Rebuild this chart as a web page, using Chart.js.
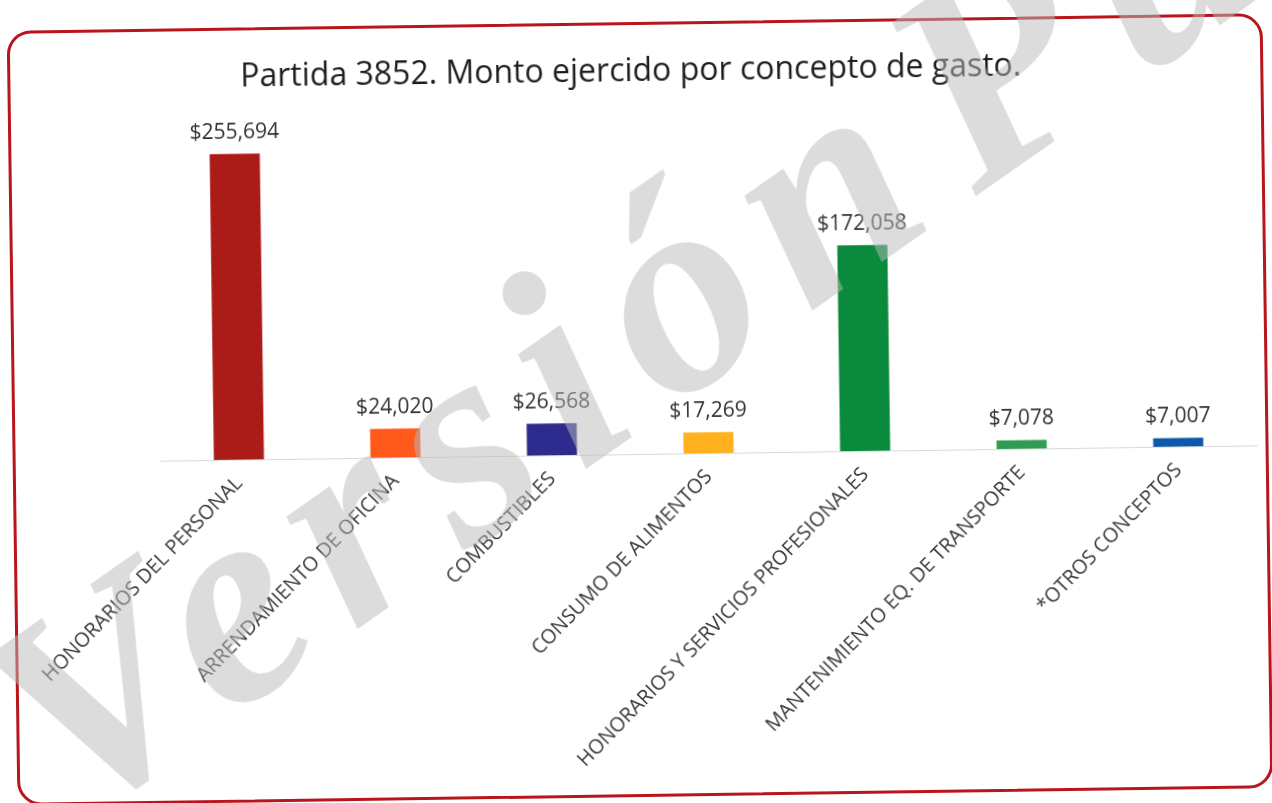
<!DOCTYPE html>
<html lang="es">

<head>
  <meta charset="UTF-8" />
  <title>Partida 3852</title>
  <script src="https://cdn.jsdelivr.net/npm/chart.js@4.4.1/dist/chart.umd.min.js"></script>
  <style>
    body {
      margin: 0;
      width: 1272px;
      height: 803px;
      background: #ffffff;
      overflow: hidden;
      position: relative;
    }
    .frame {
      position: absolute;
      left: 12px;
      top: 22px;
      width: 1256px;
      height: 775px;
      border: 3px solid #b8161c;
      border-radius: 24px;
      box-sizing: border-box;
      transform: rotate(-0.8deg);
      background: #ffffff;
    }
    .frame canvas {
      position: absolute;
      left: 0;
      top: 0;
    }
    .marca {
      position: absolute;
      left: 100px;
      top: 578px;
      font-family: "Liberation Serif", "DejaVu Serif", serif;
      font-weight: bold;
      font-style: italic;
      font-size: 290px;
      letter-spacing: 26px;
      word-spacing: -80px;
      line-height: 1;
      color: rgba(185, 185, 185, 0.5);
      white-space: nowrap;
      transform-origin: 0 100%;
      transform: rotate(-35deg);
      pointer-events: none;
    }
  </style>
</head>

<body>
  <div class="frame">
    <canvas id="grafica" width="1250" height="769"></canvas>
  </div>
  <div class="marca">Versión Pública</div>

  <script>
    const conceptos = [
      "HONORARIOS DEL PERSONAL",
      "ARRENDAMIENTO DE OFICINA",
      "COMBUSTIBLES",
      "CONSUMO DE ALIMENTOS",
      "HONORARIOS Y SERVICIOS PROFESIONALES",
      "MANTENIMIENTO EQ. DE TRANSPORTE",
      "*OTROS CONCEPTOS"
    ];
    const montos = [255694, 24020, 26568, 17269, 172058, 7078, 7007];
    const colores = ["#ab1c18", "#ff5a1c", "#2e2b8e", "#ffb21e", "#0a8a3c", "#2f9c52", "#0c58aa"];

    // etiquetas de valor encima de cada barra
    const etiquetas = {
      id: "etiquetas",
      afterDatasetsDraw(chart) {
        const ctx = chart.ctx;
        const meta = chart.getDatasetMeta(0);
        ctx.save();
        ctx.font = '21px "Open Sans"';
        ctx.fillStyle = "#333333";
        ctx.textAlign = "center";
        ctx.textBaseline = "bottom";
        meta.data.forEach((bar, i) => {
          ctx.fillText("$" + montos[i].toLocaleString("en-US"), bar.x, bar.y - 11);
        });
        ctx.restore();
      }
    };

    new Chart(document.getElementById("grafica"), {
      type: "bar",
      data: {
        labels: conceptos,
        datasets: [{
          data: montos,
          backgroundColor: colores,
          borderWidth: 0,
          barPercentage: 0.32,
          categoryPercentage: 1
        }]
      },
      options: {
        responsive: false,
        animation: false,
        layout: {
          padding: { left: 0, right: 9, top: 0, bottom: 0 }
        },
        plugins: {
          legend: { display: false },
          tooltip: { enabled: false },
          title: {
            display: true,
            text: "Partida 3852. Monto ejercido por concepto de gasto.",
            color: "#1e1e1e",
            font: { family: "Open Sans", size: 32, weight: 500 },
            padding: { top: 28, bottom: 4 }
          }
        },
        scales: {
          y: {
            min: 0,
            max: 300000,
            grid: { display: false },
            border: { display: false },
            ticks: { display: false },
            afterFit: (s) => { s.width = 145; }
          },
          x: {
            grid: { display: false },
            border: { display: true, color: "#d9d9d9", width: 1 },
            ticks: {
              color: "#3a3a3a",
              font: { family: "Open Sans", size: 20 },
              minRotation: 45,
              maxRotation: 45,
              autoSkip: false,
              padding: 4
            },
            afterFit: (s) => { s.height = 340; }
          }
        }
      },
      plugins: [etiquetas]
    });
  </script>
</body>

</html>
